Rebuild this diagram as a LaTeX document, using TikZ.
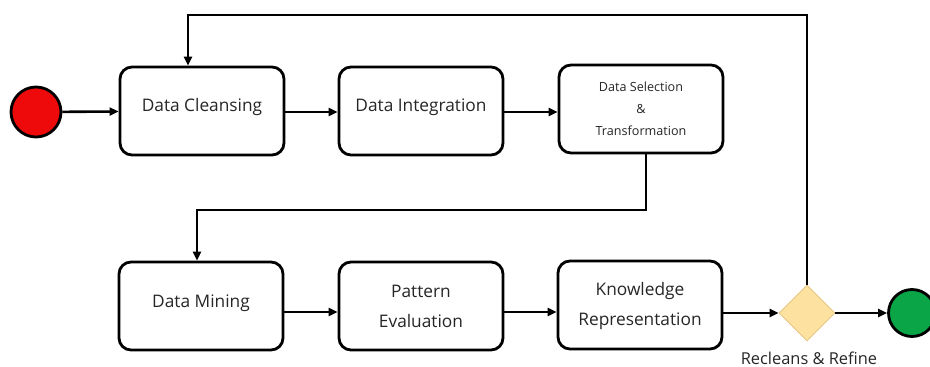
\documentclass[tikz,border=0pt]{standalone}
\usepackage{fontspec}
\setmainfont{Open Sans}
\usetikzlibrary{arrows.meta,shapes.geometric}
\definecolor{startred}{HTML}{EE0A0A}
\definecolor{endgreen}{HTML}{0AA546}
\definecolor{gatefill}{HTML}{FDE1A0}
\definecolor{gateedge}{HTML}{E2C27E}
\tikzset{
  stepbox/.style={draw=black, line width=2.8pt, rounded corners=12pt, fill=white,
    minimum width=164pt, minimum height=88pt, inner sep=0pt},
  boxtext/.style={font=\fontsize{17.3}{30}\selectfont, align=center, text=black!85},
  smalltext/.style={font=\fontsize{12.6}{22}\selectfont, align=center, text=black!85},
  flow/.style={line width=2.6pt, -{Triangle[length=9pt,width=8pt]}},
  startdot/.style={circle, draw=black, line width=2.8pt, fill=startred, minimum size=50pt, inner sep=0pt},
  enddot/.style={circle, draw=black, line width=2.8pt, fill=endgreen, minimum size=47pt, inner sep=0pt},
  gate/.style={diamond, draw=gateedge, line width=0.8pt, fill=gatefill, minimum width=56pt, minimum height=56pt, inner sep=0pt},
}
\begin{document}
\begin{tikzpicture}[x=1pt, y=-1pt]
\useasboundingbox (0,0) rectangle (930,367);

% start and end markers
\node[startdot] (start) at (36,112) {};
\node[enddot] (finish) at (912,313) {};

% upper row of steps
\node[stepbox] (dc) at (202,111) {};
\node[stepbox] (di) at (421,111) {};
\node[stepbox] (sel) at (641,109) {};
% lower row of steps
\node[stepbox] (dm) at (201,306) {};
\node[stepbox] (pe) at (421,306) {};
\node[stepbox] (kr) at (640,305) {};

% decision gate
\node[gate] (gate) at (807,313) {};

% step captions
\node[boxtext] (dct) at (202,107) {Data Cleansing};
\node[boxtext] (dit) at (421,107) {Data Integration};
\node[smalltext] (selt) at (641,109) {Data Selection\\\&\\Transformation};
\node[boxtext] (dmt) at (201,303) {Data Mining};
\node[boxtext] (pet) at (421,306) {Pattern\\Evaluation};
\node[boxtext] (krt) at (640,306) {Knowledge\\Representation};
\node[font=\fontsize{16.4}{18}\selectfont, text=black!85] (gatelbl) at (809,358) {Recleans \& Refine};

% guide rows for the horizontal arrows
\coordinate (toprow) at (0,112);
\coordinate (lowrow) at (0,312);

% main flow
\draw[flow] (start) -- (dc);
\draw[flow] (dc.east |- toprow) -- (di.west |- toprow);
\draw[flow] (di.east |- toprow) -- (sel.west |- toprow);
\draw[flow] (dm.east |- lowrow) -- (pe.west |- lowrow);
\draw[flow] (pe.east |- lowrow) -- (kr.west |- lowrow);
\draw[flow] (kr.east |- gate.west) -- (gate.west);
\draw[flow] (gate.east) -- (finish.west);

% wrap from the top row down to the bottom row
\coordinate (wr1) at (646,210);
\coordinate (wr2) at (197,210);
\draw[flow] (sel.south -| wr1) -- (wr1) -- (wr2) -- (wr2 |- dm.north);

% feedback loop back to cleansing
\coordinate (fb) at (188,15);
\draw[flow] (gate.north) |- (fb) -- (fb |- dc.north);
\end{tikzpicture}
\end{document}
